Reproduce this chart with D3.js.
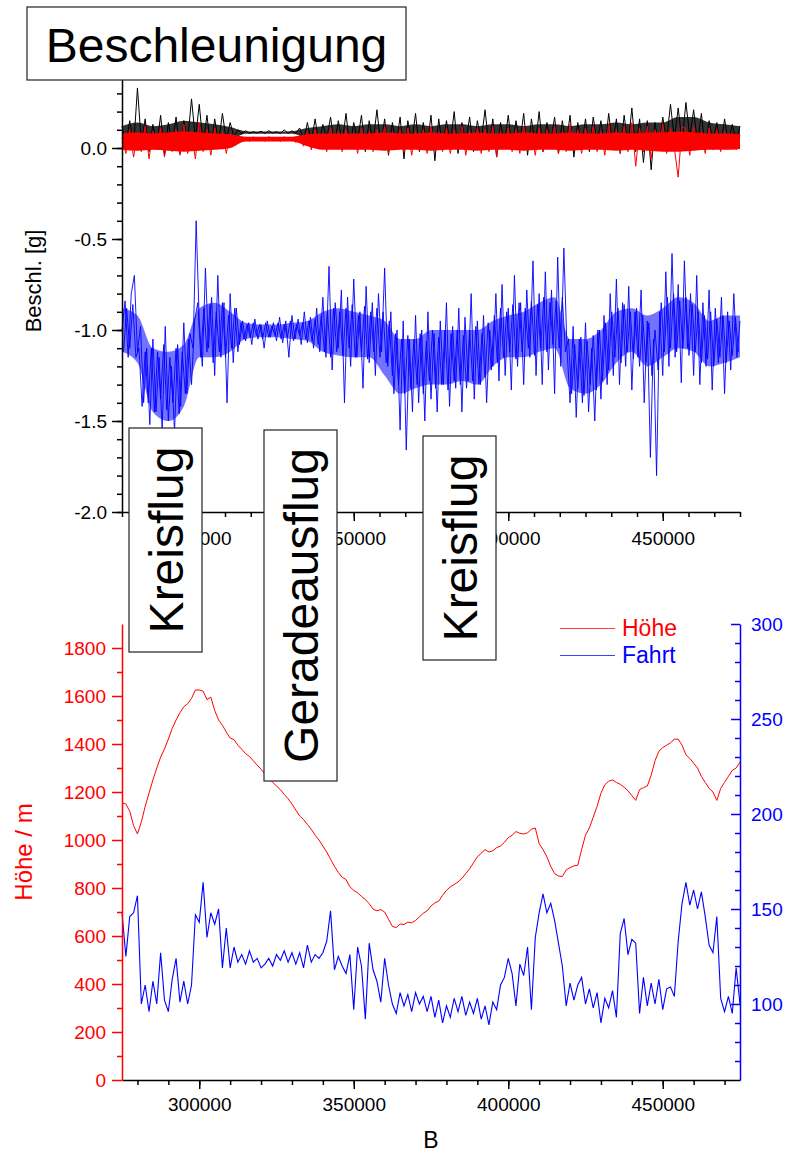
<!DOCTYPE html>
<html><head><meta charset="utf-8">
<script src="https://cdn.jsdelivr.net/npm/d3@7"></script>
<style>body{margin:0;background:#fff} svg{display:block} text{font-family:"Liberation Sans",Arial,sans-serif}</style>
</head><body>
<svg id="c" width="787" height="1152"></svg>
<script>
// ---------------- DATA ----------------
const xStart = 275000;
const accelZStep = 1000;   // blue acceleration sample spacing
const accelZbStart = 275500; // second (interleaved) pass of the blue trace
const accelStep = 1250;    // black / red acceleration sample spacing
const coreStep = 5000;     // spacing of the dense-core envelopes
const hoeheStep = 1250;
const fahrtStep = 1250;

// Beschleunigung (blue, ~ -1 g) – large excursions
const accelZ = [
 -1.0,-0.84,-1.15,-0.80,-0.70,-1.12,-0.98,-1.40,-1.10,-1.52,
 -1.05,-1.45,-1.15,-1.55,-0.98,-1.50,-1.20,-1.56,-1.08,-1.42,
 -0.96,-1.35,-1.02,-1.10,-0.40,-0.95,-1.20,-0.66,-1.10,-0.82,
 -1.25,-0.70,-1.15,-0.85,-1.40,-0.80,-1.18,-0.88,-1.08,-0.95,
 -1.06,-0.96,-1.08,-0.94,-1.05,-0.97,-1.10,-0.95,-1.04,-0.96,
 -1.06,-0.93,-1.07,-0.95,-1.15,-0.92,-1.05,-0.94,-1.08,-0.90,
 -1.07,-0.93,-1.10,-0.88,-1.12,-0.82,-1.15,-0.65,-1.22,-0.85,
 -1.10,-0.78,-1.40,-0.82,-1.20,-0.72,-1.15,-0.90,-1.32,-0.76,
 -1.18,-0.85,-1.25,-0.80,-1.12,-0.66,-1.20,-0.90,-1.35,-1.00,
 -1.55,-0.95,-1.66,-1.05,-1.45,-0.92,-1.40,-1.00,-1.50,-0.90,
 -1.38,-1.02,-1.45,-0.95,-1.30,-0.85,-1.42,-0.98,-1.32,-0.88,
 -1.45,-0.93,-1.28,-0.80,-1.38,-0.95,-1.30,-0.92,-1.40,-1.00,
 -1.20,-0.80,-1.28,-0.75,-1.25,-0.88,-1.33,-0.70,-1.20,-0.85,
 -1.30,-0.78,-1.15,-0.62,-1.25,-0.80,-1.30,-0.68,-1.22,-0.78,
 -1.35,-0.60,-1.20,-0.55,-1.10,-1.40,-0.98,-1.48,-1.05,-1.40,
 -0.96,-1.45,-1.10,-1.50,-1.00,-1.38,-0.92,-1.30,-0.80,-1.25,
 -0.72,-1.30,-0.85,-1.20,-0.76,-1.33,-0.90,-1.15,-0.78,-1.40,
 -0.95,-1.70,-1.05,-1.80,-0.90,-1.25,-0.68,-1.20,-0.58,-1.15,
 -0.75,-1.29,-0.62,-1.10,-0.80,-1.25,-0.70,-1.30,-0.85,-1.20,
 -0.78,-1.33,-0.88,-1.18,-0.82,-1.35,-0.90,-1.22,-0.80,-1.15,
 -0.95
];
// Beschleunigung (blue) – smaller excursions between the samples above
const accelZb = [
 -1.12,-0.88,-1.10,-0.86,-1.15,-1.10,-1.42,-1.12,-1.40,-1.10,
 -1.45,-1.12,-1.38,-1.08,-1.44,-1.15,-1.40,-1.10,-1.46,-1.12,
 -1.35,-1.05,-1.30,-0.95,-0.85,-1.15,-0.88,-1.12,-0.86,-1.18,
 -0.90,-1.12,-0.85,-1.15,-0.92,-1.10,-0.88,-1.12,-0.96,-1.05,
 -0.97,-1.04,-0.96,-1.03,-0.97,-1.05,-0.96,-1.04,-0.98,-1.03,
 -0.96,-1.05,-0.97,-1.04,-0.95,-1.06,-0.97,-1.03,-0.96,-1.05,
 -0.95,-1.06,-0.94,-1.08,-0.92,-1.12,-0.90,-1.15,-0.88,-1.12,
 -0.90,-1.14,-0.88,-1.10,-0.86,-1.15,-0.92,-1.12,-0.87,-1.16,
 -0.90,-1.12,-0.88,-1.15,-0.90,-1.18,-0.95,-1.25,-1.02,-1.30,
 -1.05,-1.35,-1.03,-1.32,-1.05,-1.30,-1.02,-1.35,-1.06,-1.28,
 -1.00,-1.32,-1.04,-1.30,-1.00,-1.33,-1.02,-1.28,-1.00,-1.30,
 -1.03,-1.32,-1.00,-1.28,-0.98,-1.30,-1.02,-1.26,-0.96,-1.22,
 -0.92,-1.18,-0.88,-1.15,-0.90,-1.12,-0.86,-1.16,-0.85,-1.12,
 -0.88,-1.10,-0.84,-1.14,-0.86,-1.10,-0.82,-1.12,-0.85,-1.08,
 -0.84,-1.10,-0.82,-1.12,-1.05,-1.35,-1.08,-1.32,-1.04,-1.36,
 -1.06,-1.30,-1.03,-1.33,-1.00,-1.28,-0.96,-1.22,-0.90,-1.15,
 -0.88,-1.18,-0.86,-1.12,-0.90,-1.16,-0.88,-1.20,-0.92,-1.18,
 -0.96,-1.25,-1.00,-1.22,-0.85,-1.12,-0.82,-1.10,-0.80,-1.12,
 -0.84,-1.10,-0.82,-1.14,-0.86,-1.12,-0.90,-1.18,-0.92,-1.16,
 -0.90,-1.20,-0.94,-1.15,-0.92,-1.18,-0.95,-1.14,-0.93,-1.12
];
// dense core of the blue trace
const accelZUpper = [-0.88,-0.92,-1.10,-1.12,-1.08,-0.88,-0.85,-0.90,-0.96,-0.97,-0.97,-0.96,-0.95,-0.90,-0.88,-0.90,-0.92,-0.95,-1.05,-1.05,-1.00,-1.00,-1.00,-1.00,-0.95,-0.92,-0.90,-0.85,-0.82,-1.05,-1.05,-1.00,-0.90,-0.88,-0.92,-0.88,-0.82,-0.85,-0.95,-0.92,-0.92];
const accelZLower = [-1.12,-1.18,-1.45,-1.50,-1.42,-1.15,-1.15,-1.12,-1.05,-1.04,-1.04,-1.05,-1.06,-1.12,-1.14,-1.15,-1.15,-1.25,-1.35,-1.32,-1.30,-1.30,-1.28,-1.30,-1.20,-1.15,-1.15,-1.12,-1.10,-1.32,-1.35,-1.30,-1.18,-1.12,-1.20,-1.15,-1.10,-1.12,-1.20,-1.18,-1.15];

// Beschleunigung (black) – excursions
const accelX = [
 0.12,0.02,0.15,0.00,0.33,0.03,0.16,-0.02,0.13,0.01,
 0.18,-0.04,0.14,0.02,0.17,-0.03,0.15,0.04,0.27,0.05,
 0.24,0.02,0.18,-0.01,0.16,0.03,0.19,0.04,0.14,0.06,
 0.10,0.08,0.095,0.08,0.09,0.082,0.092,0.08,0.095,0.082,
 0.09,0.08,0.10,0.08,0.095,0.08,0.11,0.04,0.14,0.03,
 0.16,0.02,0.13,0.05,0.17,0.01,0.15,0.03,0.19,0.00,
 0.14,0.04,0.18,-0.02,0.15,0.03,0.21,0.01,0.16,-0.04,
 0.14,0.02,0.17,-0.06,0.15,0.03,0.19,-0.02,0.14,0.01,
 0.18,-0.07,0.16,0.00,0.15,0.02,0.20,-0.03,0.14,0.03,
 0.17,-0.02,0.15,0.04,0.21,0.00,0.16,-0.05,0.14,0.02,
 0.18,-0.01,0.15,0.03,0.19,-0.04,0.16,0.01,0.20,-0.02,
 0.14,0.03,0.17,-0.03,0.15,0.02,0.18,-0.05,0.14,0.01,
 0.16,-0.02,0.17,0.03,0.15,-0.01,0.19,0.02,0.16,-0.03,
 0.18,0.01,0.22,-0.02,0.16,-0.08,0.15,-0.12,0.14,0.00,
 0.17,0.04,0.24,0.05,0.22,0.03,0.25,0.06,0.21,0.02,
 0.19,-0.01,0.15,0.03,0.14,0.00,0.16,0.02,0.13,0.04,
 0.12
];
const accelXUpper = [0.12,0.14,0.12,0.13,0.15,0.14,0.13,0.115,0.092,0.09,0.09,0.092,0.11,0.12,0.13,0.12,0.13,0.13,0.12,0.13,0.12,0.13,0.13,0.12,0.13,0.13,0.12,0.13,0.13,0.12,0.13,0.13,0.14,0.13,0.14,0.14,0.17,0.17,0.14,0.13,0.12];
const accelXLower = [0.03,0.03,0.03,0.03,0.03,0.03,0.03,0.04,0.078,0.078,0.078,0.078,0.05,0.03,0.03,0.03,0.03,0.03,0.03,0.03,0.03,0.03,0.03,0.03,0.03,0.03,0.03,0.03,0.03,0.03,0.03,0.03,0.03,0.03,0.03,0.03,0.04,0.04,0.03,0.03,0.03];

// Beschleunigung (red) – excursions
const accelY = [
 0.06,-0.03,0.10,-0.05,0.08,-0.02,0.12,-0.06,0.09,-0.01,
 0.11,-0.05,0.08,-0.02,0.10,-0.04,0.13,-0.03,0.09,-0.06,
 0.14,-0.02,0.10,-0.04,0.11,0.00,0.09,-0.03,0.08,0.02,
 0.065,0.04,0.06,0.035,0.062,0.04,0.058,0.036,0.064,0.038,
 0.06,0.035,0.063,0.04,0.06,0.03,0.07,0.01,0.09,-0.01,
 0.10,0.00,0.08,-0.02,0.11,0.01,0.09,-0.02,0.10,0.00,
 0.08,-0.03,0.11,0.01,0.09,-0.02,0.10,-0.01,0.12,-0.03,
 0.09,0.00,0.10,-0.02,0.11,-0.04,0.09,0.01,0.10,-0.03,
 0.12,-0.01,0.09,-0.02,0.11,-0.03,0.10,0.00,0.12,-0.04,
 0.09,-0.01,0.11,-0.03,0.10,-0.02,0.12,-0.05,0.09,0.00,
 0.11,-0.02,0.10,-0.03,0.12,-0.01,0.09,-0.04,0.11,-0.02,
 0.10,0.00,0.12,-0.03,0.09,-0.02,0.13,-0.01,0.10,-0.03,
 0.11,0.00,0.12,-0.02,0.09,-0.04,0.13,-0.01,0.10,-0.03,
 0.12,-0.02,0.14,-0.10,0.11,-0.02,0.12,-0.06,0.10,-0.01,
 0.13,-0.03,0.11,0.00,-0.16,0.12,0.10,-0.04,0.12,0.00,
 0.09,-0.03,0.11,-0.01,0.10,-0.02,0.09,0.00,0.08,-0.01,
 0.07
];
const accelYUpper = [0.08,0.085,0.08,0.085,0.09,0.085,0.08,0.075,0.062,0.062,0.062,0.062,0.075,0.08,0.08,0.08,0.08,0.085,0.08,0.08,0.085,0.08,0.08,0.085,0.08,0.08,0.085,0.08,0.08,0.085,0.08,0.08,0.085,0.08,0.085,0.085,0.09,0.085,0.08,0.08,0.075];
const accelYLower = [-0.01,-0.015,-0.01,-0.015,-0.02,-0.015,-0.01,0.0,0.036,0.036,0.036,0.036,0.01,-0.01,-0.01,-0.01,-0.01,-0.015,-0.01,-0.01,-0.015,-0.01,-0.01,-0.015,-0.01,-0.01,-0.015,-0.01,-0.01,-0.015,-0.01,-0.01,-0.015,-0.01,-0.015,-0.02,-0.02,-0.015,-0.01,-0.01,-0.005];

// Höhe [m]
const hoehe = [
 1155,1150,1120,1060,1025,1075,1140,1195,1250,1300,
 1345,1380,1420,1465,1500,1530,1555,1568,1590,1625,
 1625,1620,1585,1595,1540,1500,1478,1450,1425,1418,
 1395,1378,1360,1348,1330,1312,1295,1275,1260,1240,
 1225,1210,1190,1172,1150,1125,1100,1085,1065,1045,
 1020,1000,975,950,920,890,865,845,835,805,
 790,780,765,752,735,712,705,710,700,670,
 640,635,650,648,658,655,665,680,695,705,
 725,738,745,770,790,805,815,825,840,860,
 880,905,930,945,960,950,955,968,975,990,
 1010,1020,1035,1028,1025,1030,1045,1050,985,960,
 930,890,860,850,848,875,885,892,895,960,
 1020,1050,1095,1140,1195,1230,1245,1250,1240,1232,
 1220,1205,1185,1165,1210,1218,1225,1270,1330,1370,
 1385,1395,1405,1420,1420,1395,1355,1340,1320,1300,
 1265,1240,1215,1200,1165,1215,1240,1265,1290,1300,
 1325
];

// Fahrt [km/h]
const fahrt = [
 148,125,146,148,157,100,110,96,112,100,
 127,102,96,113,124,101,112,100,110,147,
 143,164,135,148,142,150,119,140,119,130,
 122,126,121,128,122,124,119,121,124,120,
 126,123,128,122,127,121,127,119,131,122,
 126,124,127,133,149,118,125,120,116,126,
 97,130,120,92,132,118,112,101,124,110,
 100,95,106,99,105,96,106,100,104,96,
 104,93,102,90,99,93,103,96,104,94,
 101,95,103,92,99,89,101,97,110,114,
 124,116,99,121,115,130,97,135,148,158,
 148,153,144,132,120,99,111,102,110,114,
 100,108,98,106,90,103,98,107,93,137,
 145,126,134,132,95,114,99,111,100,113,
 97,108,109,104,133,153,164,152,160,150,
 159,146,131,127,146,103,96,104,95,119,
 100
];

const xMajorTicks = [300000, 350000, 400000, 450000];
const xTickLabels = ["300000", "350000", "400000", "450000"];
const accelTicks = [-2.0, -1.5, -1.0, -0.5, 0.0];
const accelTickLabels = ["-2.0", "-1.5", "-1.0", "-0.5", "0.0"];
const hoeheTicks = [0, 200, 400, 600, 800, 1000, 1200, 1400, 1600, 1800];
const fahrtTicks = [100, 150, 200, 250, 300];
const seriesNames = ["Höhe", "Fahrt"];

// ---------------- DRAW ----------------
const svg = d3.select("#c");
const FONT = '"Liberation Sans", Arial, sans-serif';
const L = 122, R = 740;

const x = d3.scaleLinear([275000, 475000], [L, R]);
const yTop = d3.scaleLinear([-2.0, 0.38], [512, 512 - 2.38 * 182]);
const yH = d3.scaleLinear([0, 1900], [1080, 624]);
const yF = d3.scaleLinear([60, 300], [1080, 624]);

function seriesPath(arr, step, y, start = xStart) {
  return d3.line().x((d, i) => x(start + i * step)).y(d => y(d))(arr);
}
function corePath(up, lo, step, y) {
  return d3.area().curve(d3.curveMonotoneX).x((d, i) => x(xStart + i * step)).y0((d, i) => y(lo[i])).y1(d => y(d))(up);
}

// top panel series
const gTop = svg.append("g");
gTop.append("path").attr("d", corePath(accelXUpper, accelXLower, coreStep, yTop)).attr("fill", "#000").attr("fill-opacity", 0.8);
gTop.append("path").attr("d", seriesPath(accelX, accelStep, yTop))
  .attr("fill", "none").attr("stroke", "#000").attr("stroke-width", 1);
gTop.append("path").attr("d", corePath(accelYUpper, accelYLower, coreStep, yTop)).attr("fill", "#ff0000");
gTop.append("path").attr("d", seriesPath(accelY, accelStep, yTop))
  .attr("fill", "none").attr("stroke", "#ff0000").attr("stroke-width", 1);
gTop.append("path").attr("d", corePath(accelZUpper, accelZLower, coreStep, yTop))
  .attr("fill", "#0000ff").attr("fill-opacity", 0.55);
gTop.append("path").attr("d", seriesPath(accelZb, accelZStep, yTop, accelZbStart))
  .attr("fill", "none").attr("stroke", "#0000ff").attr("stroke-width", 0.9);
gTop.append("path").attr("d", seriesPath(accelZ, accelZStep, yTop))
  .attr("fill", "none").attr("stroke", "#0000ff").attr("stroke-width", 0.9);

// bottom panel series
svg.append("path").attr("d", seriesPath(hoehe, hoeheStep, yH))
  .attr("fill", "none").attr("stroke", "#ff0000").attr("stroke-width", 1);
svg.append("path").attr("d", seriesPath(fahrt, fahrtStep, yF))
  .attr("fill", "none").attr("stroke", "#0000ff").attr("stroke-width", 1.1);

function styleAxis(g, color, fs) {
  g.attr("color", color).attr("font-family", FONT).attr("font-size", fs);
  g.selectAll("path.domain, line").attr("stroke-width", 1.5);
}

// top panel axes
const topMinorX = d3.range(0, 25).map(i => 275000 + i * 25000 / 3);
svg.append("g").attr("transform", "translate(0,512)")
  .call(d3.axisBottom(x).tickValues(topMinorX).tickSize(5).tickFormat("").tickSizeOuter(0))
  .call(g => { styleAxis(g, "#000", 19); g.select(".domain").remove(); });
svg.append("g").attr("transform", "translate(0,512)")
  .call(d3.axisBottom(x).tickValues(xMajorTicks).tickSize(9).tickPadding(11)
        .tickFormat((d, i) => xTickLabels[i]).tickSizeOuter(0))
  .call(g => styleAxis(g, "#000", 19));
svg.append("g").attr("transform", `translate(${L},0)`)
  .call(d3.axisLeft(yTop).tickValues(d3.range(-20, 4).map(v => v / 10)).tickSize(5).tickFormat("").tickSizeOuter(0))
  .call(g => { styleAxis(g, "#000", 19); g.select(".domain").remove(); });
svg.append("g").attr("transform", `translate(${L},0)`)
  .call(d3.axisLeft(yTop).tickValues(accelTicks).tickSize(10).tickPadding(5)
        .tickFormat((d, i) => accelTickLabels[i]).tickSizeOuter(0))
  .call(g => styleAxis(g, "#000", 19));

// bottom panel axes
svg.append("g").attr("transform", "translate(0,1080)")
  .call(d3.axisBottom(x).tickValues(d3.range(280000, 475000, 10000)).tickSize(5).tickFormat("").tickSizeOuter(0))
  .call(g => { styleAxis(g, "#000", 19); g.select(".domain").remove(); });
svg.append("g").attr("transform", "translate(0,1080)")
  .call(d3.axisBottom(x).tickValues(xMajorTicks).tickSize(9).tickPadding(9)
        .tickFormat((d, i) => xTickLabels[i]).tickSizeOuter(0))
  .call(g => styleAxis(g, "#000", 19));
svg.append("g").attr("transform", `translate(${L},0)`)
  .call(d3.axisLeft(yH).tickValues(d3.range(100, 1900, 200)).tickSize(5).tickFormat("").tickSizeOuter(0))
  .call(g => { styleAxis(g, "#ff0000", 19); g.select(".domain").remove(); });
svg.append("g").attr("transform", `translate(${L},0)`)
  .call(d3.axisLeft(yH).tickValues(hoeheTicks).tickSize(10).tickPadding(6)
        .tickFormat(d3.format("d")).tickSizeOuter(0))
  .call(g => styleAxis(g, "#ff0000", 19));
svg.append("g").attr("transform", `translate(${R},0)`)
  .call(d3.axisRight(yF).tickValues(d3.range(70, 300, 10).filter(v => v % 50)).tickSize(-5).tickFormat("").tickSizeOuter(0))
  .call(g => { styleAxis(g, "#0000ff", 19); g.select(".domain").remove(); });
svg.append("g").attr("transform", `translate(${R},0)`)
  .call(d3.axisRight(yF).tickValues(fahrtTicks).tickSize(-9).tickPadding(11)
        .tickFormat(d3.format("d")).tickSizeOuter(0))
  .call(g => styleAxis(g, "#0000ff", 19));

// axis titles
svg.append("text").attr("transform", "translate(41,281) rotate(-90)")
  .attr("text-anchor", "middle").attr("font-size", 22).attr("fill", "#000").text("Beschl. [g]");
svg.append("text").attr("transform", "translate(32,852) rotate(-90)")
  .attr("text-anchor", "middle").attr("font-size", 24).attr("fill", "#ff0000").text("Höhe / m");
svg.append("text").attr("x", 431).attr("y", 1148)
  .attr("text-anchor", "middle").attr("font-size", 23).attr("fill", "#000").text("B");

// legend
const legColors = ["#ff0000", "#0000ff"];
seriesNames.forEach((n, i) => {
  const yy = 628.5 + i * 27;
  svg.append("line").attr("x1", 560).attr("x2", 615).attr("y1", yy).attr("y2", yy)
    .attr("stroke", legColors[i]).attr("stroke-width", 1).attr("stroke-opacity", 0.75);
  svg.append("text").attr("x", 622).attr("y", yy + 7.5).attr("font-size", 23)
    .attr("fill", legColors[i]).text(n);
});

// annotation boxes
const boxes = [
  {t: "Beschleunigung", x0: 27, y0: 7, x1: 406, y1: 80, rot: false},
  {t: "Kreisflug", x0: 129, y0: 428, x1: 202, y1: 652, rot: true},
  {t: "Geradeausflug", x0: 264, y0: 430, x1: 337, y1: 781, rot: true},
  {t: "Kreisflug", x0: 423, y0: 436, x1: 496, y1: 660, rot: true}
];
boxes.forEach(b => {
  svg.append("rect").attr("x", b.x0).attr("y", b.y0).attr("width", b.x1 - b.x0).attr("height", b.y1 - b.y0)
    .attr("fill", "#fff").attr("stroke", "#222").attr("stroke-width", 1.2);
  const cx = (b.x0 + b.x1) / 2, cy = (b.y0 + b.y1) / 2;
  if (b.rot) {
    svg.append("text").attr("transform", `translate(${cx + 17},${cy}) rotate(-90)`)
      .attr("text-anchor", "middle").attr("font-size", 48).attr("fill", "#000").text(b.t);
  } else {
    svg.append("text").attr("x", cx).attr("y", 62)
      .attr("text-anchor", "middle").attr("font-size", 48).attr("fill", "#000").text(b.t);
  }
});
</script>
</body></html>
